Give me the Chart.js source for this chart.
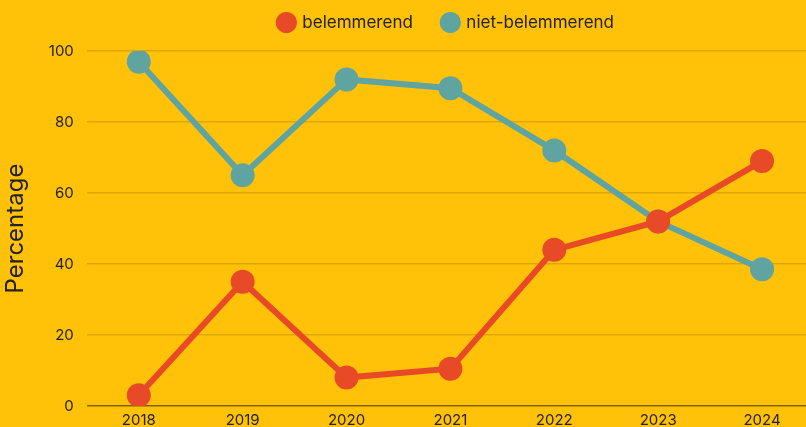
<!DOCTYPE html>
<html>
<head>
<meta charset="utf-8">
<script src="https://cdn.jsdelivr.net/npm/chart.js@4"></script>
<style>
  html, body { margin: 0; padding: 0; background: #FFC208; overflow: hidden; }
  #wrap { width: 826px; height: 434px; }
</style>
</head>
<body>
<div id="wrap"><canvas id="lineChart" width="826" height="434"></canvas></div>
<script>
const years = ["2018", "2019", "2020", "2021", "2022", "2023", "2024"];
const belemmerend = [3, 35, 8, 10.5, 44, 52, 69];
const nietBelemmerend = [97, 65, 92, 89.5, 72, 52, 38.5];
const yTicks = [0, 20, 40, 60, 80, 100];

const orange = "#E84A27";
const teal = "#5FA4A0";
const textColor = "#222";
const font = "Inter";

// push the plot down below the legend and center the legend over the plot
const legendGap = {
  id: "legendGap",
  beforeInit(chart) {
    const fit = chart.legend.fit;
    chart.legend.fit = function () {
      fit.bind(chart.legend)();
      this.height += 10;
    };
  },
  afterLayout(chart) {
    chart.legend.left = chart.chartArea.left - 8;
    chart.legend.right = chart.chartArea.right;
  }
};

new Chart("lineChart", {
  type: "line",
  data: {
    labels: years,
    datasets: [
      {
        label: "belemmerend",
        data: belemmerend,
        borderColor: orange,
        backgroundColor: orange,
        borderWidth: 6,
        pointRadius: 12,
        pointHoverRadius: 12,
        pointBorderWidth: 0
      },
      {
        label: "niet-belemmerend",
        data: nietBelemmerend,
        borderColor: teal,
        backgroundColor: teal,
        borderWidth: 6,
        pointRadius: 12,
        pointHoverRadius: 12,
        pointBorderWidth: 0
      }
    ]
  },
  plugins: [legendGap],
  options: {
    responsive: false,
    animation: false,
    layout: { padding: { left: 1, right: 0, top: -16, bottom: 0 } },
    plugins: {
      legend: {
        position: "top",
        labels: {
          usePointStyle: true,
          pointStyle: "circle",
          boxWidth: 15,
          boxHeight: 15,
          padding: 30,
          color: textColor,
          font: { family: font, size: 17 }
        }
      },
      tooltip: { enabled: false }
    },
    scales: {
      x: {
        offset: true,
        grid: { display: false, drawTicks: false },
        border: { display: false },
        ticks: { color: textColor, padding: 5, font: { family: font, size: 15 } }
      },
      y: {
        min: 0,
        max: 100,
        afterBuildTicks: (axis) => { axis.ticks = yTicks.map(v => ({ value: v })); },
        grid: {
          color: (ctx) => ctx.tick && ctx.tick.value === 0 ? "rgba(80,60,0,0.7)" : "rgba(150,100,0,0.3)",
          lineWidth: 1.5,
          drawTicks: false
        },
        border: { display: false },
        ticks: { color: textColor, padding: 13, font: { family: font, size: 15 } },
        title: {
          display: true,
          text: "Percentage",
          color: textColor,
          padding: { top: 0, bottom: 6 },
          font: { family: font, size: 24 }
        }
      }
    }
  }
});
</script>
</body>
</html>
